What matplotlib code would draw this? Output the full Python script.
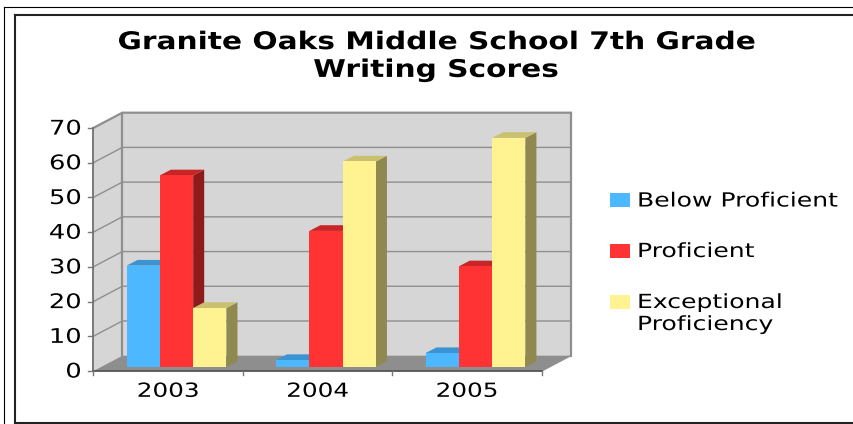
import matplotlib
matplotlib.use("Agg")
import matplotlib.pyplot as plt
from matplotlib.patches import Polygon, Rectangle
from matplotlib.lines import Line2D
from matplotlib.patheffects import AbstractPathEffect
from matplotlib.transforms import Affine2D

years = ["2003", "2004", "2005"]
below = [29.2, 2, 4]
proficient = [55.2, 39.2, 29]
exceptional = [17, 59.2, 66]
series_names = ["Below Proficient", "Proficient", "Exceptional\nProficiency"]
y_ticks = [0, 10, 20, 30, 40, 50, 60, 70]
title = "Granite Oaks Middle School 7th Grade\nWriting Scores"

W, H = 854, 424
plt.rcParams["font.family"] = "DejaVu Sans"
fig = plt.figure(figsize=(W / 100, H / 100), dpi=100, facecolor="white")


class HStretch(AbstractPathEffect):
    """Widen text horizontally about a fixed pixel column (the reference's type is stretched)."""
    def __init__(self, sx, cx):
        super().__init__()
        self.sx, self.cx = sx, cx

    def draw_path(self, renderer, gc, tpath, affine, rgbFace=None):
        t = affine + Affine2D().translate(-self.cx, 0).scale(self.sx, 1).translate(self.cx, 0)
        renderer.draw_path(gc, tpath, t, rgbFace)


# Front plane of the pseudo-3D plot, in pixels
L, R, T, B = 93.3, 541.7, 128, 371
ax = fig.add_axes([L / W, 1 - B / H, (R - L) / W, (B - T) / H])
ax.set_xlim(0, 3)
ax.set_ylim(0, 70)
ax.axis("off")
px_x = 3 / (R - L)
px_y = 70 / (B - T)


def shift(x, y, dx, dy):
    return (x + dx * px_x, y + dy * px_y)


WALL_DX, WALL_DY = 29, 15.3
GRID = "#8f8f8f"

# back wall, side wall, floor
ax.add_patch(Polygon([shift(0, 0, WALL_DX, WALL_DY), shift(3, 0, WALL_DX, WALL_DY),
                      shift(3, 70, WALL_DX, WALL_DY), shift(0, 70, WALL_DX, WALL_DY)],
                     closed=True, fc="#d6d6d6", ec="none", clip_on=False, zorder=1))
ax.add_patch(Polygon([(0, 0), shift(0, 0, WALL_DX, WALL_DY), shift(0, 70, WALL_DX, WALL_DY), (0, 70)],
                     closed=True, fc="#d6d6d6", ec="none", clip_on=False, zorder=1))
ax.add_patch(Polygon([(0, 0), (3, 0), shift(3, 0, WALL_DX, WALL_DY), shift(0, 0, WALL_DX, WALL_DY)],
                     closed=True, fc="#8e8e8e", ec="none", clip_on=False, zorder=2))

for v in y_ticks[1:]:
    x0, y0 = shift(0, v, WALL_DX, WALL_DY)
    x1, y1 = shift(3, v, WALL_DX, WALL_DY)
    lw = 1.6 if v == 70 else 1.0
    ax.plot([0, x0, x1], [v, y0, y1], color=GRID, lw=lw, clip_on=False, zorder=2,
            solid_joinstyle="miter")
x0, y0 = shift(0, 0, WALL_DX, WALL_DY)
ytop = shift(0, 70, WALL_DX, WALL_DY)[1]
ax.plot([x0, x0], [y0, ytop], color=GRID, lw=1.6, clip_on=False, zorder=2)
x1, _ = shift(3, 0, WALL_DX, WALL_DY)
ax.plot([x1, x1], [y0, ytop], color=GRID, lw=1.6, clip_on=False, zorder=2)
ax.plot([3, x1], [0, y0], color=GRID, lw=1.0, clip_on=False, zorder=2)

# axis lines, ticks, tick labels
ax.plot([0, 0], [0, 70], color="#6f6f6f", lw=1.3, clip_on=False, zorder=3)
ax.plot([0, 3], [0, 0], color="#555555", lw=1.3, clip_on=False, zorder=3)
for v in y_ticks:
    ax.plot([0, -5 * px_x], [v, v], color="#777777", lw=1.0, clip_on=False, zorder=3)
    ax.text(-11.5 * px_x, v - 0.3, str(v), ha="right", va="center", fontsize=14.5, color="black",
            path_effects=[HStretch(1.28, L - 11.5)])
for i in range(4):
    ax.plot([i, i], [0, -4 * px_y], color="#777777", lw=1.0, clip_on=False, zorder=3)
for i, yr in enumerate(years):
    ax.text(i + 0.5, -20.3 * px_y, yr, ha="center", va="center", fontsize=14, color="black",
            path_effects=[HStretch(1.27, L + (i + 0.5) * (R - L) / 3)])

# bars
BAR_DX, BAR_DY = 8.5, 4      # offset of bar fronts from the front plane
DEP_DX, DEP_DY = 11, 5.7     # bar depth
bar_w = 33.3 * px_x
styles = [("#4db8ff", "#3a94d4", "#2f78ab"),
          ("#ff3333", "#c82626", "#8f1a1a"),
          ("#fff291", "#c9c170", "#8f8950")]
z = 5
for cat in range(3):
    for s, vals in enumerate([below, proficient, exceptional]):
        val = vals[cat]
        front, top, side = styles[s]
        left = cat + 0.5 - 1.5 * bar_w + s * bar_w
        right = left + bar_w
        a = shift(left, 0, BAR_DX, BAR_DY)
        b = shift(right, 0, BAR_DX, BAR_DY)
        c = shift(right, val, BAR_DX, BAR_DY)
        d = shift(left, val, BAR_DX, BAR_DY)
        e = shift(c[0], c[1], DEP_DX, DEP_DY)
        f = shift(d[0], d[1], DEP_DX, DEP_DY)
        g = shift(b[0], b[1], DEP_DX, DEP_DY)
        ax.add_patch(Polygon([b, g, e, c], closed=True, fc=side, ec="none", clip_on=False, zorder=z))
        ax.add_patch(Polygon([d, c, e, f], closed=True, fc=top, ec="none", clip_on=False, zorder=z))
        ax.add_patch(Polygon([a, b, c, d], closed=True, fc=front, ec="none", clip_on=False, zorder=z + 1))
        z += 2

# title
fig.text(435.5 / W, 1 - 56 / H, title, ha="center", va="center", fontsize=17.5,
         fontweight="bold", color="black", linespacing=1.2,
         path_effects=[HStretch(1.22, 435.5)])

# legend
legend_y = [200.5, 251, 302]
for s, name in enumerate(series_names):
    ly = legend_y[s]
    fig.add_artist(Rectangle((610 / W, 1 - (ly + 7) / H), 20 / W, 14 / H,
                             transform=fig.transFigure, fc=styles[s][0], ec="none"))
    fig.text(637 / W, 1 - (ly - 9) / H, name, ha="left", va="top", fontsize=14,
             color="black", linespacing=1.2,
             path_effects=[HStretch(1.29, 637)])


# frame lines
def fig_line(xs, ys, lw, color="black"):
    fig.add_artist(Line2D([x / W for x in xs], [1 - y / H for y in ys], color=color, lw=lw,
                          transform=fig.transFigure))


fig_line([4.5, 854], [6.5, 6.5], 0.8)
fig_line([4.5, 4.5], [6.5, 424], 0.8)
fig_line([15.5, 854], [14.5, 14.5], 1.5, "#222222")
fig_line([15.5, 15.5], [14.5, 422.5], 1.5, "#222222")
fig_line([15.5, 854], [422.5, 422.5], 1.5, "#222222")

fig.savefig("out.png", dpi=100, facecolor="white")
